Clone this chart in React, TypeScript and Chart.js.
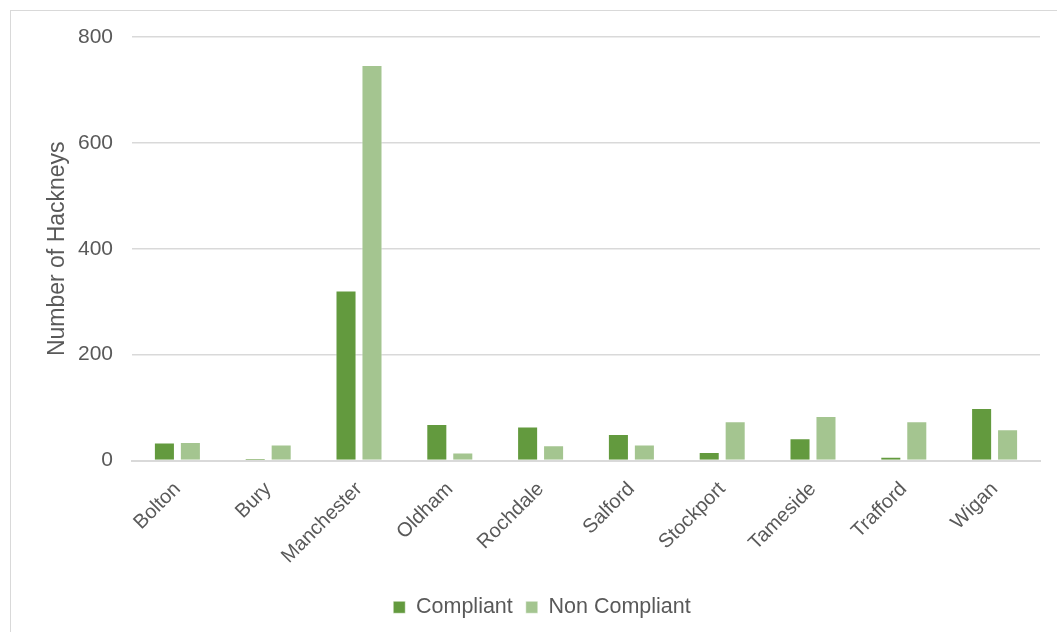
import React, { useEffect, useRef } from "react";
import { Chart, registerables } from "chart.js";

Chart.register(...registerables);

const categories = ["Bolton", "Bury", "Manchester", "Oldham", "Rochdale", "Salford", "Stockport", "Tameside", "Trafford", "Wigan"];
const compliant = [34, 4, 321, 69, 64, 50, 16, 42, 7, 99];
const nonCompliant = [35, 30, 747, 15, 29, 30, 74, 84, 74, 59];
const yTicks = [0, 200, 400, 600, 800];

const FONT = "'Liberation Sans', Arial, sans-serif";
const TEXT = "#595959";

export default function App() {
  const ref = useRef<HTMLCanvasElement | null>(null);
  useEffect(() => {
    if (!ref.current) return;
    const chart = new Chart(ref.current, {
      type: "bar",
      data: {
        labels: categories,
        datasets: [
          {
            label: "Compliant",
            data: compliant,
            backgroundColor: "#639A3E",
            borderColor: "rgba(255,255,255,0.5)",
            borderWidth: 1,
            barPercentage: 0.81,
            categoryPercentage: 0.572,
          },
          {
            label: "Non Compliant",
            data: nonCompliant,
            backgroundColor: "#A4C590",
            borderColor: "rgba(255,255,255,0.5)",
            borderWidth: 1,
            barPercentage: 0.81,
            categoryPercentage: 0.572,
          },
        ],
      },
      options: {
        animation: false,
        responsive: false,
        maintainAspectRatio: false,
        layout: { padding: { left: 33, right: 17, top: 26, bottom: 4 } },
        plugins: {
          legend: {
            position: "bottom",
            labels: {
              font: { family: FONT, size: 21.5 },
              color: TEXT,
              boxWidth: 12,
              boxHeight: 12,
              padding: 13,
            },
          },
          tooltip: { enabled: false },
        },
        scales: {
          x: {
            grid: { display: false, drawTicks: false },
            border: { color: "#d9d9d9", width: 2 },
            ticks: {
              font: { family: FONT, size: 20 },
              color: TEXT,
              maxRotation: 45,
              minRotation: 45,
              padding: 17,
            },
            afterFit: (s: any) => {
              s.height = 123;
            },
          },
          y: {
            min: 0,
            max: 800,
            afterBuildTicks: (s: any) => {
              s.ticks = yTicks.map((v) => ({ value: v }));
            },
            grid: { color: "#d9d9d9", lineWidth: 1.5, drawTicks: false },
            border: { display: false },
            ticks: {
              font: { family: FONT, size: 21 },
              color: TEXT,
              padding: 19,
            },
            title: {
              display: true,
              text: "Number of Hackneys",
              font: { family: FONT, size: 23 },
              color: TEXT,
              padding: { top: 0, bottom: 4 },
            },
            afterFit: (s: any) => {
              s.width = 88;
              s.paddingTop = 0;
              s.paddingBottom = 0;
            },
          },
        },
      },
    });
    return () => chart.destroy();
  }, []);

  return (
    <div
      style={{
        position: "absolute",
        left: 10,
        top: 10,
        width: 1060,
        height: 640,
        border: "1px solid #d9d9d9",
        background: "#fff",
        boxSizing: "border-box",
      }}
    >
      <canvas ref={ref} width={1046} height={621} style={{ display: "block" }} />
    </div>
  );
}
